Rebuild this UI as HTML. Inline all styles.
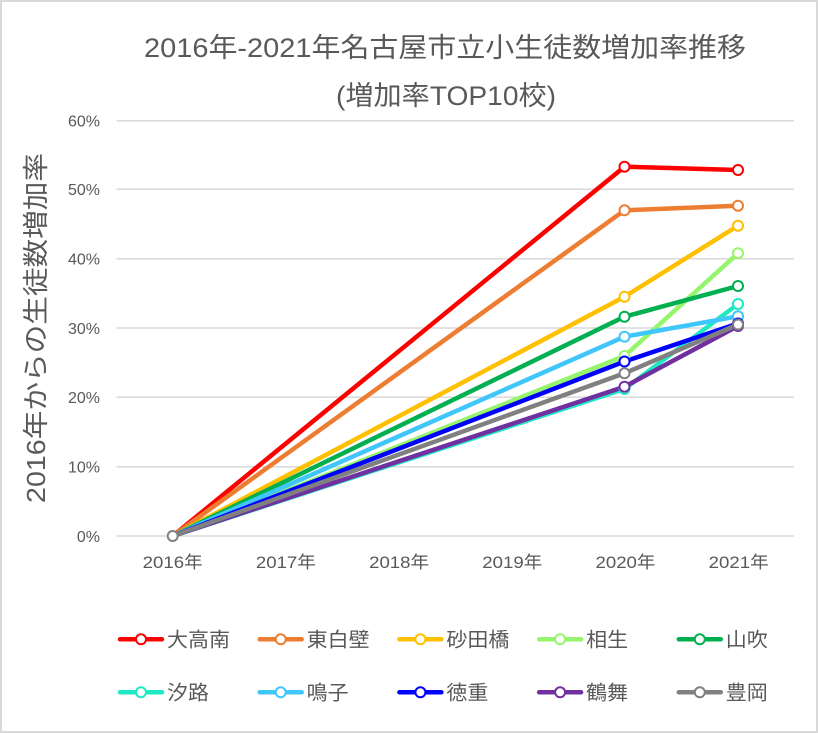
<!DOCTYPE html>
<html>
<head>
<meta charset="utf-8">
<style>
html,body{margin:0;padding:0;background:#fff;}
svg{display:block;}
text{font-family:"Liberation Sans","Noto Sans CJK JP",sans-serif;fill:#595959;}
</style>
</head>
<body>
<svg width="818" height="733" viewBox="0 0 818 733" xmlns="http://www.w3.org/2000/svg">
<rect x="0" y="0" width="818" height="733" fill="#fff"/>
<rect x="1" y="1" width="816" height="731" fill="none" stroke="#d9d9d9" stroke-width="2"/>

<!-- title -->
<text x="144" y="57" font-size="27" textLength="602" lengthAdjust="spacingAndGlyphs">2016年-2021年名古屋市立小生徒数増加率推移</text>
<text x="336" y="105" font-size="27" textLength="220" lengthAdjust="spacingAndGlyphs">(増加率TOP10校)</text>

<!-- y axis title -->
<text transform="translate(45,328) rotate(-90)" text-anchor="middle" font-size="26" textLength="350" lengthAdjust="spacingAndGlyphs">2016年からの生徒数増加率</text>

<!-- gridlines -->
<g stroke="#d9d9d9" stroke-width="1.5">
<line x1="116.5" y1="120.7" x2="794" y2="120.7"/>
<line x1="116.5" y1="189.3" x2="794" y2="189.3"/>
<line x1="116.5" y1="258.7" x2="794" y2="258.7"/>
<line x1="116.5" y1="328" x2="794" y2="328"/>
<line x1="116.5" y1="397.3" x2="794" y2="397.3"/>
<line x1="116.5" y1="466.7" x2="794" y2="466.7"/>
<line x1="116.5" y1="536" x2="794" y2="536"/>
</g>

<!-- y ticks -->
<g font-size="16" text-anchor="end">
<text x="100" y="126.5">60%</text>
<text x="100" y="195">50%</text>
<text x="100" y="264.5">40%</text>
<text x="100" y="334">30%</text>
<text x="100" y="403">20%</text>
<text x="100" y="472.5">10%</text>
<text x="100" y="542">0%</text>
</g>

<!-- x ticks -->
<g font-size="17" text-anchor="middle">
<text x="172.7" y="568" textLength="60" lengthAdjust="spacingAndGlyphs">2016年</text>
<text x="285.9" y="568" textLength="60" lengthAdjust="spacingAndGlyphs">2017年</text>
<text x="399.1" y="568" textLength="60" lengthAdjust="spacingAndGlyphs">2018年</text>
<text x="512.3" y="568" textLength="60" lengthAdjust="spacingAndGlyphs">2019年</text>
<text x="625.5" y="568" textLength="60" lengthAdjust="spacingAndGlyphs">2020年</text>
<text x="738.7" y="568" textLength="60" lengthAdjust="spacingAndGlyphs">2021年</text>
</g>

<!-- series -->
<g fill="none" stroke-width="4.5" stroke-linejoin="round" stroke-linecap="round">
<polyline stroke="#ff0000" points="172.7,536 624.5,166.7 738,170"/>
<polyline stroke="#ed7d31" points="172.7,536 624.5,210.3 738,205.7"/>
<polyline stroke="#ffc000" points="172.7,536 624.5,296.7 738,225.7"/>
<polyline stroke="#96f56c" points="172.7,536 624.5,356 738,253.3"/>
<polyline stroke="#00b050" points="172.7,536 624.5,316.7 738,286"/>
<polyline stroke="#1de9c4" points="172.7,536 624.5,389 738,304"/>
<polyline stroke="#3fc6fb" points="172.7,536 624.5,336.7 738,316.3"/>
<polyline stroke="#0000ff" points="172.7,536 624.5,361.5 738,323.5"/>
<polyline stroke="#7030a0" points="172.7,536 624.5,386.7 738,326"/>
<polyline stroke="#808080" points="172.7,536 624.5,373.3 738,324.5"/>
</g>
<g fill="#fff" stroke-width="2">
<g stroke="#ff0000"><circle cx="624.5" cy="166.7" r="5"/><circle cx="738" cy="170" r="5"/></g>
<g stroke="#ed7d31"><circle cx="624.5" cy="210.3" r="5"/><circle cx="738" cy="205.7" r="5"/></g>
<g stroke="#ffc000"><circle cx="624.5" cy="296.7" r="5"/><circle cx="738" cy="225.7" r="5"/></g>
<g stroke="#96f56c"><circle cx="624.5" cy="356" r="5"/><circle cx="738" cy="253.3" r="5"/></g>
<g stroke="#00b050"><circle cx="624.5" cy="316.7" r="5"/><circle cx="738" cy="286" r="5"/></g>
<g stroke="#1de9c4"><circle cx="624.5" cy="389" r="5"/><circle cx="738" cy="304" r="5"/></g>
<g stroke="#3fc6fb"><circle cx="624.5" cy="336.7" r="5"/><circle cx="738" cy="316.3" r="5"/></g>
<g stroke="#0000ff"><circle cx="624.5" cy="361.5" r="5"/><circle cx="738" cy="323.5" r="5"/></g>
<g stroke="#7030a0"><circle cx="624.5" cy="386.7" r="5"/><circle cx="738" cy="326" r="5"/></g>
<g stroke="#808080"><circle cx="172.7" cy="536" r="5"/><circle cx="624.5" cy="373.3" r="5"/><circle cx="738" cy="324.5" r="5"/></g>
</g>

<!-- legend -->
<g stroke-width="4.5" stroke-linecap="round">
<line x1="120" y1="639.3" x2="162" y2="639.3" stroke="#ff0000"/>
<line x1="259.7" y1="639.3" x2="301.7" y2="639.3" stroke="#ed7d31"/>
<line x1="399.4" y1="639.3" x2="441.4" y2="639.3" stroke="#ffc000"/>
<line x1="539.1" y1="639.3" x2="581.1" y2="639.3" stroke="#96f56c"/>
<line x1="678.8" y1="639.3" x2="720.8" y2="639.3" stroke="#00b050"/>
<line x1="120" y1="692.3" x2="162" y2="692.3" stroke="#1de9c4"/>
<line x1="259.7" y1="692.3" x2="301.7" y2="692.3" stroke="#3fc6fb"/>
<line x1="399.4" y1="692.3" x2="441.4" y2="692.3" stroke="#0000ff"/>
<line x1="539.1" y1="692.3" x2="581.1" y2="692.3" stroke="#7030a0"/>
<line x1="678.8" y1="692.3" x2="720.8" y2="692.3" stroke="#808080"/>
</g>
<g fill="#fff" stroke-width="2">
<circle cx="141" cy="639.3" r="5" stroke="#ff0000"/>
<circle cx="280.7" cy="639.3" r="5" stroke="#ed7d31"/>
<circle cx="420.4" cy="639.3" r="5" stroke="#ffc000"/>
<circle cx="560.1" cy="639.3" r="5" stroke="#96f56c"/>
<circle cx="699.8" cy="639.3" r="5" stroke="#00b050"/>
<circle cx="141" cy="692.3" r="5" stroke="#1de9c4"/>
<circle cx="280.7" cy="692.3" r="5" stroke="#3fc6fb"/>
<circle cx="420.4" cy="692.3" r="5" stroke="#0000ff"/>
<circle cx="560.1" cy="692.3" r="5" stroke="#7030a0"/>
<circle cx="699.8" cy="692.3" r="5" stroke="#808080"/>
</g>
<g font-size="20">
<text x="167" y="646.5" textLength="63" lengthAdjust="spacingAndGlyphs">大高南</text>
<text x="306.7" y="646.5" textLength="63" lengthAdjust="spacingAndGlyphs">東白壁</text>
<text x="446.4" y="646.5" textLength="63" lengthAdjust="spacingAndGlyphs">砂田橋</text>
<text x="586.1" y="646.5" textLength="42" lengthAdjust="spacingAndGlyphs">相生</text>
<text x="725.8" y="646.5" textLength="42" lengthAdjust="spacingAndGlyphs">山吹</text>
<text x="167" y="699.5" textLength="42" lengthAdjust="spacingAndGlyphs">汐路</text>
<text x="306.7" y="699.5" textLength="42" lengthAdjust="spacingAndGlyphs">鳴子</text>
<text x="446.4" y="699.5" textLength="42" lengthAdjust="spacingAndGlyphs">徳重</text>
<text x="586.1" y="699.5" textLength="42" lengthAdjust="spacingAndGlyphs">鶴舞</text>
<text x="725.8" y="699.5" textLength="42" lengthAdjust="spacingAndGlyphs">豊岡</text>
</g>
</svg>
</body>
</html>
